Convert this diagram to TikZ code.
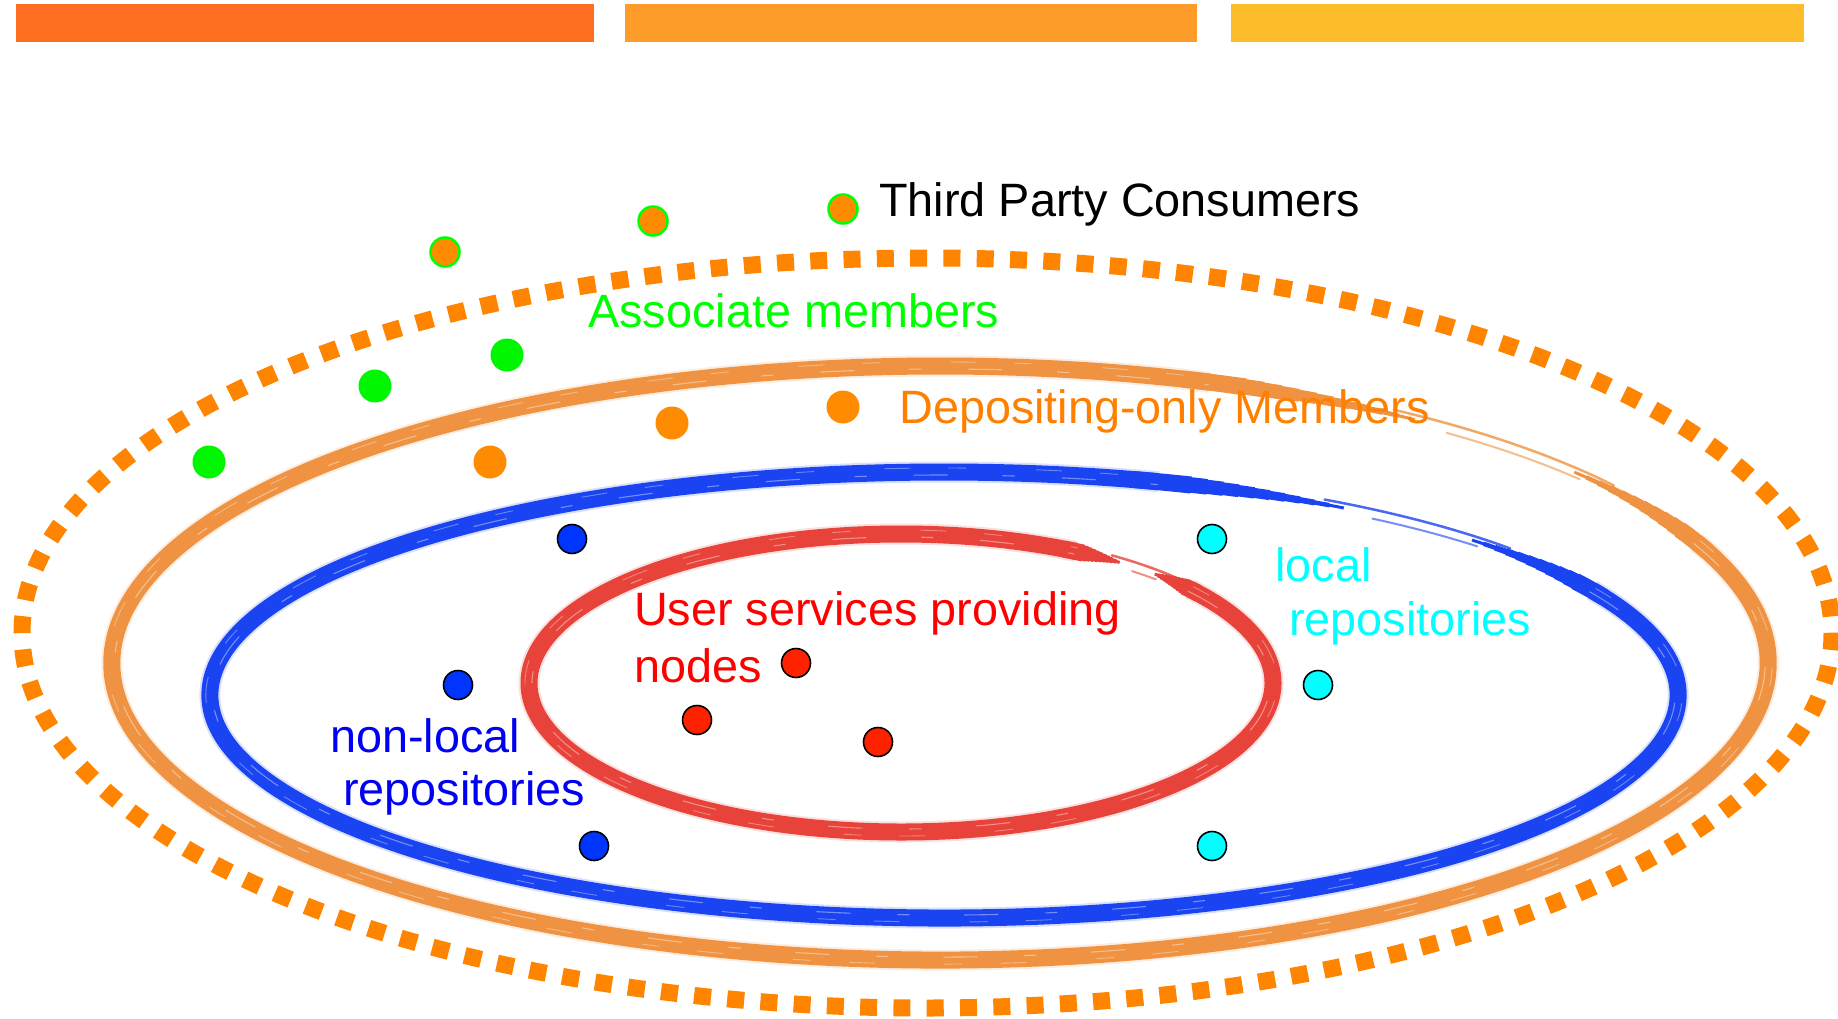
\documentclass[tikz,border=0pt]{standalone}
\usepackage{fontspec}
\setmainfont{Liberation Sans}
\definecolor{barA}{HTML}{FD6E21}
\definecolor{barB}{HTML}{FD9C28}
\definecolor{barC}{HTML}{FDBC2A}
\definecolor{dotorange}{HTML}{FF8500}
\definecolor{ringorange}{HTML}{EF9342}
\definecolor{ringblue}{HTML}{1A44F2}
\definecolor{ringred}{HTML}{E8433A}
\definecolor{memorange}{HTML}{FF8C00}
\definecolor{memgreen}{HTML}{00F500}
\definecolor{nodered}{HTML}{FF2200}
\definecolor{repoblue}{HTML}{0035FF}
\definecolor{repocyan}{HTML}{00FFFF}
\definecolor{txtgreen}{HTML}{00FF00}
\definecolor{txtorange}{HTML}{FF8000}
\definecolor{txtblue}{HTML}{0000F5}
\definecolor{txtred}{HTML}{FF0000}
% one arc of an ellipse: #1 options, #2 cx, #3 cy, #4 rx, #5 ry, #6 start, #7 end
\newcommand\ringarc[7]{%
  \draw[#1] (#2,#3) ++(#6:#4 and #5) arc [start angle=#6, end angle=#7, x radius=#4, y radius=#5];}
% brush ring: #1 colour, #2 cx, #3 cy, #4 rx, #5 ry, #6 = a (gap start), #7 = b (gap end), a<b<0, #8 taper length
\newcommand\brushring[8]{%
  \pgfmathsetmacro\rmA{#7+#8}\pgfmathsetmacro\rmB{#6+360-#8}%
  \pgfmathsetmacro\rtE{#7+#8+2}\pgfmathsetmacro\ltS{#6-#8-2}%
  \pgfmathsetmacro\riA{#4-3}\pgfmathsetmacro\riB{#5-3}\pgfmathsetmacro\roA{#4+4}\pgfmathsetmacro\roB{#5+4}%
  \pgfmathsetmacro\rsA{#4+5}\pgfmathsetmacro\rsB{#5+5}\pgfmathsetmacro\rxA{#4-5}\pgfmathsetmacro\rxB{#5-5}%
  \pgfmathsetmacro\gS{#6-2}\pgfmathsetmacro\gE{#7+4}\pgfmathsetmacro\gT{#6+3}\pgfmathsetmacro\gU{#7+1}%
  \ringarc{#1, line width=21, opacity=0.16}{#2}{#3}{#4}{#5}{\rmA}{\rmB}
  \ringarc{#1, line width=17}{#2}{#3}{#4}{#5}{\rmA}{\rmB}
  % tapering ends
  \foreach \k in {0,...,10}{%
    \pgfmathsetmacro\tw{3+1.4*\k}%
    \pgfmathsetmacro\ts{#7+\k*#8/12}%
    \pgfmathsetmacro\te{#6-\k*#8/12}%
    \ringarc{#1, line width=\tw}{#2}{#3}{#4}{#5}{\ts}{\rtE}
    \ringarc{#1, line width=\tw}{#2}{#3}{#4}{#5}{\ltS}{\te}
  }
  % thin strokes across the gap
  \ringarc{#1, line width=2.5, opacity=0.8, line cap=round}{#2}{#3}{\rsA}{\rsB}{\gS}{\gE}
  \ringarc{#1, line width=2, opacity=0.6, line cap=round}{#2}{#3}{\rxA}{\rxB}{\gT}{\gU}
  % brush texture
  \ringarc{white, line width=1.1, opacity=0.4, dash pattern=on 34 off 55 on 12 off 47}{#2}{#3}{\riA}{\riB}{\rmA}{\rmB}
  \ringarc{white, line width=0.9, opacity=0.35, dash pattern=on 18 off 70 on 26 off 38}{#2}{#3}{\roA}{\roB}{\rmA}{\rmB}
}
\begin{document}
\begin{tikzpicture}[x=1pt,y=-1pt,
  lbl/.style={anchor=base west, inner sep=0, font=\fontsize{46.8}{54}\selectfont},
  thirddot/.style={circle, draw=txtgreen, line width=2.5, fill=memorange, minimum size=29, inner sep=0},
  greendot/.style={circle, fill=memgreen, minimum size=33, inner sep=0},
  orangedot/.style={circle, fill=memorange, minimum size=33, inner sep=0},
  outdot/.style={circle, draw=black, line width=1.6, minimum size=29, inner sep=0}]
\useasboundingbox (0,0) rectangle (1838,1019);
\fill[white] (0,0) rectangle (1838,1019);
% top bars
\fill[barA] (16,4) rectangle (594,42);
\fill[barB] (625,4) rectangle (1197,42);
\fill[barC] (1231,4) rectangle (1804,42);
% dotted outer ellipse
\draw[dotorange, line width=17, dash pattern=on 17 off 16.3] (927,633) ellipse [x radius=905, y radius=375];
% brush rings
\brushring{ringorange}{940}{663}{828}{297}{-55}{-40}{16}
\brushring{ringblue}{944}{695}{734}{223}{-57}{-44}{16}
\brushring{ringred}{901}{683}{372}{149}{-54}{-47}{8}
% third party consumers dots
\node[thirddot] (tp1) at (445,252) {};
\node[thirddot] (tp2) at (653,221) {};
\node[thirddot] (tp3) at (843,209) {};
% associate members
\node[greendot] (am1) at (209,462) {};
\node[greendot] (am2) at (375,386) {};
\node[greendot] (am3) at (507,355) {};
% depositing-only members
\node[orangedot] (dm1) at (490,462) {};
\node[orangedot] (dm2) at (672,423) {};
\node[orangedot] (dm3) at (843,407) {};
% local repositories
\node[outdot, fill=repocyan] (lr1) at (1212,539) {};
\node[outdot, fill=repocyan] (lr2) at (1318,685) {};
\node[outdot, fill=repocyan] (lr3) at (1212,846) {};
% non-local repositories
\node[outdot, fill=repoblue] (nr1) at (572,539) {};
\node[outdot, fill=repoblue] (nr2) at (458,685) {};
\node[outdot, fill=repoblue] (nr3) at (594,846) {};
% user service nodes
\node[outdot, fill=nodered] (us1) at (796,663) {};
\node[outdot, fill=nodered] (us2) at (697,720) {};
\node[outdot, fill=nodered] (us3) at (878,742) {};
% labels
\node[lbl, text=black] (ltp) at (879,216) {Third Party Consumers};
\node[lbl, text=txtgreen] (lam) at (588,327) {Associate members};
\node[lbl, text=txtorange] (ldm) at (899,423) {Depositing-only Members};
\node[lbl, text=txtred] (lus1) at (634,625) {User services providing};
\node[lbl, text=txtred] (lus2) at (634,682) {nodes};
\node[lbl, text=repocyan] (llr1) at (1275,581) {local};
\node[lbl, text=repocyan] (llr2) at (1289,635) {repositories};
\node[lbl, text=txtblue] (lnr1) at (330,752) {non-local};
\node[lbl, text=txtblue] (lnr2) at (343,805) {repositories};
\end{tikzpicture}
\end{document}
